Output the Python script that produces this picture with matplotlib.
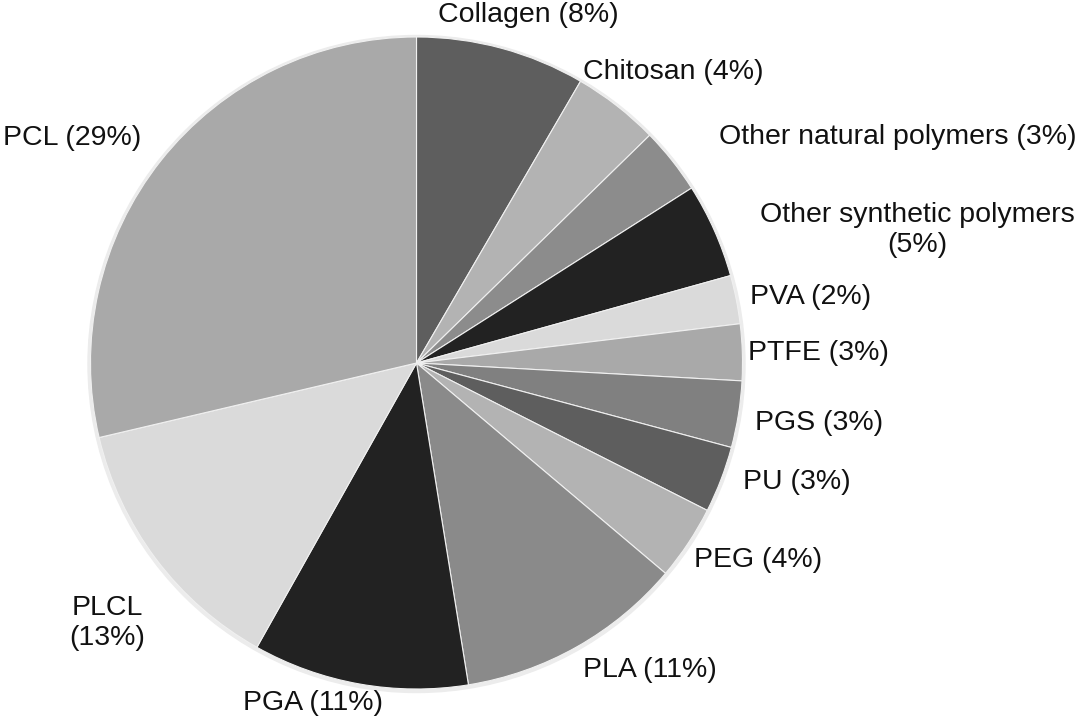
import matplotlib
matplotlib.use('Agg')
import matplotlib.pyplot as plt

# polymer share (%), read clockwise from 12 o'clock
materials = ['Collagen', 'Chitosan', 'Other natural polymers', 'Other synthetic polymers',
             'PVA', 'PTFE', 'PGS', 'PU', 'PEG', 'PLA', 'PGA', 'PLCL', 'PCL']
shares = [8.4, 4.3, 3.3, 4.7, 2.4, 2.8, 3.3, 3.3, 3.7, 11.3, 10.7, 13.2, 28.7]
labels = ['Collagen (8%)', 'Chitosan (4%)', 'Other natural polymers (3%)',
          'Other synthetic polymers\n(5%)', 'PVA (2%)', 'PTFE (3%)', 'PGS (3%)',
          'PU (3%)', 'PEG (4%)', 'PLA (11%)', 'PGA (11%)', 'PLCL\n(13%)', 'PCL (29%)']

colors = ['#5e5e5e', '#b3b3b3', '#8c8c8c', '#222222', '#dadada', '#a9a9a9', '#808080',
          '#5e5e5e', '#b3b3b3', '#8a8a8a', '#222222', '#dadada', '#a9a9a9']

# label centres in pixel coords (x from left, y from top)
label_xy = [(528, 15), (673, 72), (898, 137), (917, 230), (811, 297), (818, 353),
            (819, 423), (797, 482), (758, 560), (650, 670), (313, 703), (107, 623),
            (72, 138)]

W, H = 1084, 722
fig = plt.figure(figsize=(W / 100, H / 100), dpi=100)
ax = fig.add_axes([0, 0, 1, 1])

cx, cy, r = 416.5, H - 363, 326
# faint halo round the pie
ax.add_patch(plt.Circle((cx, cy - 1), r + 2.5, color='#ececec', zorder=0))
ax.pie(shares, colors=colors, startangle=90, counterclock=False,
       center=(cx, cy), radius=r, frame=True,
       wedgeprops=dict(edgecolor='#f0f0f0', linewidth=0.8))
ax.set_xlim(0, W)
ax.set_ylim(0, H)
ax.set_aspect('equal')
ax.axis('off')

for text, (x, y) in zip(labels, label_xy):
    ax.text(x, H - y, text, ha='center', va='center', fontsize=20.5,
            family=['Liberation Sans', 'DejaVu Sans'], color='#111111',
            linespacing=1.22)

plt.savefig('out.png', dpi=100)
plt.close('all')
